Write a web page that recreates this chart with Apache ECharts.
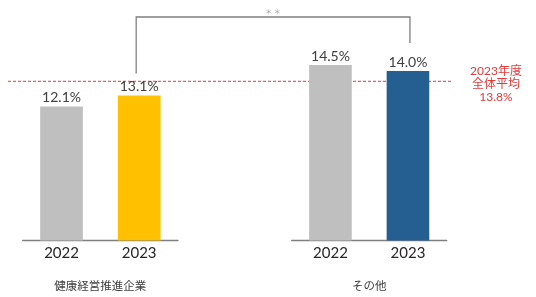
<!DOCTYPE html>
<html>
<head>
<meta charset="utf-8">
<script src="https://cdn.jsdelivr.net/npm/echarts@6/dist/echarts.min.js"></script>
<style>html,body{margin:0;padding:0;background:#fff;}#c{width:536px;height:297px;}</style>
</head>
<body>
<div id="c"></div>
<script>
const categories = ['2022', '2023'];
const groups = ['健康経営推進企業', 'その他'];
const promoValues = [12.1, 13.1];
const otherValues = [14.5, 14.0];
const promoColors = ['#bfbfbf', '#ffc000'];
const otherColors = ['#bfbfbf', '#255e91'];
const avgValue = 13.8;
const avgLabel = ['2023年度', '全体平均', '13.8%'];
const sigLabel = '＊ ＊';

const FONT = "Lato, 'Noto Sans CJK JP', sans-serif";
const chart = echarts.init(document.getElementById('c'), null, {renderer: 'canvas'});

function xAx(gi, name) {
  return {
    type: 'category', gridIndex: gi, data: categories,
    axisLine: {lineStyle: {color: '#7f7f7f', width: 1.3}},
    axisTick: {show: false},
    axisLabel: {fontSize: 15, color: '#262626', margin: 5, fontFamily: FONT},
    name: name, nameLocation: 'middle', nameGap: 40,
    nameTextStyle: {fontSize: 11.5, color: '#404040', fontFamily: FONT}
  };
}
function barSeries(gi, vals, cols) {
  return {
    type: 'bar', xAxisIndex: gi, yAxisIndex: gi, barWidth: '55%', z: 3,
    data: vals.map((v, i) => ({value: v, itemStyle: {color: cols[i]}})),
    label: {show: true, position: 'top', distance: 2, fontSize: 14, color: '#404040',
      fontFamily: FONT, formatter: p => p.value.toFixed(1) + '%'}
  };
}

chart.setOption({
  animation: false,
  textStyle: {fontFamily: FONT},
  grid: [
    {left: 22.7, width: 155.3, top: 19, height: 223},
    {left: 291.7, width: 155, top: 19, height: 223},
    {left: 8, width: 445, top: 19, height: 223}
  ],
  xAxis: [
    xAx(0, groups[0]),
    xAx(1, groups[1]),
    {type: 'category', gridIndex: 2, data: ['s', 'e'], boundaryGap: false, show: false}
  ],
  yAxis: [
    {type: 'value', gridIndex: 0, min: 0, max: 20, show: false},
    {type: 'value', gridIndex: 1, min: 0, max: 18.3, show: false},
    {type: 'value', gridIndex: 2, min: 0, max: 19.15, show: false}
  ],
  series: [
    barSeries(0, promoValues, promoColors),
    barSeries(1, otherValues, otherColors),
    {
      type: 'line', xAxisIndex: 2, yAxisIndex: 2, z: 1, symbol: 'none', silent: true,
      data: [avgValue, avgValue],
      lineStyle: {color: '#e03a3a', width: 1, type: [3, 2]}
    }
  ]
});

const p2 = chart.convertToPixel({gridIndex: 0}, [1, promoValues[1]]);
const p4 = chart.convertToPixel({gridIndex: 1}, [1, otherValues[1]]);
const pe = chart.convertToPixel({gridIndex: 2}, [1, avgValue]);
const bx1 = p2[0] - 3, bx2 = p4[0] + 2, by = 17;

chart.setOption({
  graphic: [
    {type: 'polyline', silent: true, z: 10,
      shape: {points: [[bx1, p2[1] - 22], [bx1, by], [bx2, by], [bx2, p4[1] - 28]]},
      style: {stroke: '#7f7f7f', lineWidth: 1.3, fill: null}},
    {type: 'text', silent: true, z: 10, x: (bx1 + bx2) / 2, y: 11,
      style: {text: sigLabel, fill: '#a0a0a0', fontSize: 7, align: 'center', verticalAlign: 'middle',
        fontFamily: "'Noto Sans CJK JP', sans-serif"}},
    {type: 'text', silent: true, z: 10, x: pe[0] + 43, y: pe[1] + 3,
      style: {text: avgLabel.join('\n'), fill: '#e03a3a', fontSize: 12, lineHeight: 12.8,
        align: 'center', verticalAlign: 'middle', fontFamily: FONT}}
  ]
});
</script>
</body>
</html>
